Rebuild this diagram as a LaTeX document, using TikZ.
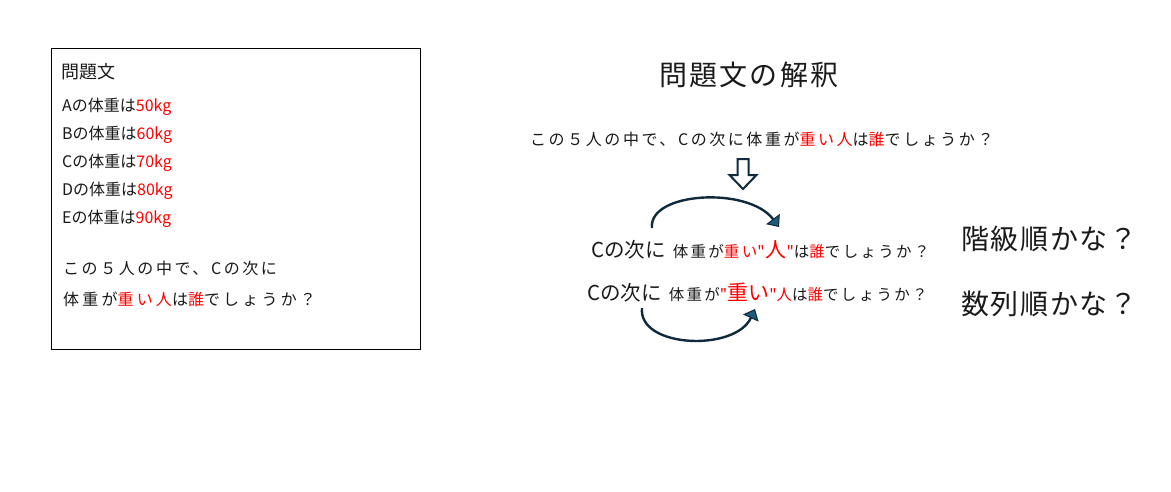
\documentclass[tikz,border=0pt]{standalone}
\usepackage{fontspec}
\setmainfont{Noto Sans CJK JP}
\newfontfamily\qfont{Noto Sans CJK JP}
\usetikzlibrary{arrows.meta}
\definecolor{navy}{HTML}{0E2A3C}
\definecolor{tipfill}{HTML}{1F5A7A}
\definecolor{jred}{HTML}{FF0000}
\definecolor{ink}{HTML}{1A1A1A}
\newcommand{\fs}[1]{\fontsize{#1}{#1}\selectfont}
\newcommand{\lsp}[1]{\addfontfeatures{LetterSpace=#1}}
\newcommand{\rd}[1]{\textcolor{jred}{#1}}
\newcommand{\sm}[1]{{\fs{15.5}\lsp{15}#1}}
\newcommand{\dq}{{\qfont\fs{15.5}"}}
\begin{document}
\begin{tikzpicture}[x=1pt,y=-1pt,
  txt/.style={inner sep=0pt, text=ink, anchor=base west, font=\fs{16}},
  sent/.style={txt, font=\fs{16}\lsp{16}},
  big/.style={txt, font=\fs{28}\lsp{6}},
  curvearrow/.style={draw=navy, line width=2.4pt,
    -{Triangle[length=10pt, width=17pt, fill=tipfill, color=navy, line width=1pt]}},
  blockarrow/.style={draw=navy, line width=2pt, fill=white, line join=miter}]
\useasboundingbox[fill=white] (0,0) rectangle (1171,491);
% problem box
\node[draw=black, line width=1pt, minimum width=369pt, minimum height=301pt,
  anchor=north west, inner sep=0pt] (box) at (51,48) {};
\node[txt, font=\fs{18}] (ptitle) at (61,78.5) {問題文};
\node[txt] (la) at (62,111) {Aの体重は\rd{50kg}};
\node[txt] (lb) at (62,139) {Bの体重は\rd{60kg}};
\node[txt] (lc) at (62,167) {Cの体重は\rd{70kg}};
\node[txt] (ld) at (62,195) {Dの体重は\rd{80kg}};
\node[txt] (le) at (62,223) {Eの体重は\rd{90kg}};
\node[sent] (q1) at (63,274) {この５人の中で、Cの次に};
\node[sent, font=\fs{16}\lsp{20}] (q2) at (63,305) {体重が\rd{重い人}は\rd{誰}でしょうか？};
% interpretation
\node[big, font=\fs{28}\lsp{8}] (ititle) at (659,85.5) {問題文の解釈};
\node[sent] (isent) at (530,145.5) {この５人の中で、Cの次に体重が\rd{重い人}は\rd{誰}でしょうか？};
\draw[blockarrow] (737.5,159) -- (748.5,159) -- (748.5,175) -- (756.5,175)
  -- (743,189) -- (729.5,175) -- (737.5,175) -- cycle;
\node[txt] (r1) at (591,257) {{\fs{20.5}Cの次に}\hspace{7pt}\sm{体重が\rd{重い}}\rd{\dq}\hspace{1pt}{\color{jred}\fs{21}人}\rd{\dq}\sm{は\rd{誰}でしょうか？}};
\node[txt] (r2) at (587,300) {{\fs{20.5}Cの次に}\hspace{7pt}\sm{体重が}\rd{\dq}{\color{jred}\fs{21}重い}\rd{\dq}\sm{\rd{人}は\rd{誰}でしょうか？}};
\coordinate (a1s) at (652,228);
\coordinate (a1e) at (779,227);
\coordinate (a2s) at (642,308);
\coordinate (a2e) at (755,309);
\draw[curvearrow] (a1s) .. controls (648,192) and (748,186) .. (a1e);
\draw[curvearrow] (a2s) .. controls (638,348) and (735,352) .. (a2e);
\node[big] (k1) at (961,249) {階級順かな？};
\node[big] (k2) at (961,314) {数列順かな？};
\end{tikzpicture}
\end{document}
